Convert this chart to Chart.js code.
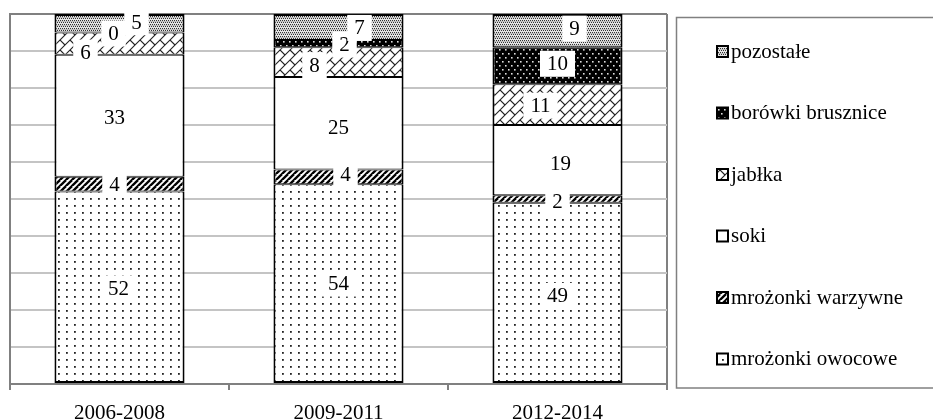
<!DOCTYPE html>
<html><head><meta charset="utf-8">
<script src="https://cdn.jsdelivr.net/npm/chart.js@4"></script>
<style>html,body{margin:0;padding:0;background:#fff}canvas{display:block}</style>
</head><body>
<canvas id="c" width="933" height="420"></canvas>
<script>
// ---- data ----
const categories = ['2006-2008', '2009-2011', '2012-2014'];
const seriesNames = ['mrożonki owocowe', 'mrożonki warzywne', 'soki', 'jabłka', 'borówki brusznice', 'pozostałe'];
const mrozonkiOwocowe = [52, 54, 49];
const mrozonkiWarzywne = [4, 4, 2];
const soki = [33, 25, 19];
const jablka = [6, 8, 11];
const borowkiBrusznice = [0, 2, 10];
const pozostale = [5, 7, 9];
const seriesValues = [mrozonkiOwocowe, mrozonkiWarzywne, soki, jablka, borowkiBrusznice, pozostale];

// label nudges (dx, dy) per series / category, as placed in the original
const labelOffsets = [
  [[-1, 1], [0, 0], [0, 3]],
  [[-5, 0], [7, -2], [0, 2]],
  [[-5, 2], [0, 4], [3, 3]],
  [[-34, 9], [-24, 3], [-17, 1]],
  [[-6, 1], [6, 1], [0, -2]],
  [[17, -1], [21, 1], [17, -2]]
];

const FONT = '"Liberation Serif", "Times New Roman", serif';

function pat(w, h, draw) {
  const c = document.createElement('canvas');
  c.width = w; c.height = h;
  const g = c.getContext('2d');
  draw(g, w, h);
  return g.createPattern(c, 'repeat');
}
// mrożonki owocowe: sparse dots
const pDots = pat(8, 7, g => { g.fillStyle = '#fff'; g.fillRect(0, 0, 8, 7); g.fillStyle = '#222'; g.fillRect(2, 2, 1.8, 1.8); });
// mrożonki warzywne: wide upward diagonal
const pDiag = pat(6, 6, g => {
  g.fillStyle = '#fff'; g.fillRect(0, 0, 6, 6);
  g.strokeStyle = '#000'; g.lineWidth = 2.3;
  for (let k = -2; k <= 3; k++) { g.beginPath(); g.moveTo(k * 6 - 6, 12); g.lineTo(k * 6 + 6, 0); g.stroke(); }
});
// soki: plain white
const pWhite = '#ffffff';
// jabłka: diagonal brick
const pBrick = pat(20, 20, g => {
  g.fillStyle = '#fff'; g.fillRect(0, 0, 20, 20);
  g.strokeStyle = '#222'; g.lineWidth = 1.1;
  for (let c = -40; c <= 80; c += 10) { g.beginPath(); g.moveTo(c + 20, -20); g.lineTo(c - 40, 40); g.stroke(); }
  for (let k = -6; k <= 10; k++) {
    for (let m = -6; m <= 6; m++) {
      const d = 20 * m + 10 * (((k % 2) + 2) % 2);
      const s1 = 10 * k, s2 = 10 * k + 10;
      g.beginPath(); g.moveTo((s1 - d) / 2, (s1 + d) / 2); g.lineTo((s2 - d) / 2, (s2 + d) / 2); g.stroke();
    }
  }
});
// borówki brusznice: black with white dots
const pBlackDots = pat(6, 8, g => {
  g.fillStyle = '#000'; g.fillRect(0, 0, 6, 8);
  g.fillStyle = '#ddd'; g.fillRect(1, 1, 1.6, 1.6); g.fillRect(4, 5, 1.6, 1.6);
});
// pozostałe: fine grey dots
const pGrey = pat(4, 4, g => {
  g.fillStyle = '#e4e4e4'; g.fillRect(0, 0, 4, 4);
  g.fillStyle = '#333';
  g.fillRect(0, 0, 1, 1); g.fillRect(2, 0, 1, 1); g.fillRect(1, 2, 1, 1); g.fillRect(3, 2, 1, 1);
  g.fillStyle = '#999'; g.fillRect(0, 1, 4, 0.5);
});
const fills = [pDots, pDiag, pWhite, pBrick, pBlackDots, pGrey];

const datasets = seriesNames.map((name, i) => ({
  label: name,
  data: seriesValues[i],
  backgroundColor: fills[i],
  borderColor: '#000',
  borderWidth: { left: 2, right: 2, top: i === seriesNames.length - 1 ? 2 : 1, bottom: i === 0 ? 2 : 1 },
  borderSkipped: false,
  barPercentage: 0.594,
  categoryPercentage: 1.0
}));

const segLabels = {
  id: 'segLabels',
  afterDatasetsDraw(chart) {
    const ctx = chart.ctx;
    ctx.save();
    ctx.font = '21px ' + FONT;
    ctx.textAlign = 'center';
    ctx.textBaseline = 'middle';
    chart.data.datasets.forEach((ds, i) => {
      const meta = chart.getDatasetMeta(i);
      meta.data.forEach((el, j) => {
        const t = String(ds.data[j]);
        const off = labelOffsets[i][j];
        const x = el.x + off[0];
        const y = (el.y + el.base) / 2 + off[1];
        const w = ctx.measureText(t).width + 14;
        const h = 26;
        ctx.fillStyle = '#fff';
        ctx.fillRect(x - w / 2, y - h / 2, w, h);
        ctx.fillStyle = '#000';
        ctx.fillText(t, x, y + 1);
      });
    });
    ctx.restore();
  }
};

const boxLegend = {
  id: 'boxLegend',
  afterDraw(chart) {
    const ctx = chart.ctx;
    ctx.save();
    ctx.strokeStyle = '#808080';
    ctx.lineWidth = 1.5;
    ctx.strokeRect(676.5, 17.5, 300, 370.5);
    ctx.font = '21px ' + FONT;
    ctx.textAlign = 'left';
    ctx.textBaseline = 'middle';
    const ds = chart.data.datasets.slice().reverse();
    ds.forEach((d, k) => {
      const y = 52 + k * 61.5;
      ctx.fillStyle = d.backgroundColor;
      ctx.fillRect(717, y - 6, 11, 11);
      ctx.strokeStyle = '#000';
      ctx.lineWidth = 2;
      ctx.strokeRect(717, y - 6, 11, 11);
      ctx.fillStyle = '#000';
      ctx.fillText(d.label, 731, y);
    });
    ctx.restore();
  }
};

new Chart(document.getElementById('c'), {
  type: 'bar',
  data: { labels: categories, datasets },
  options: {
    responsive: false,
    animation: false,
    devicePixelRatio: 1,
    layout: { padding: { left: 10, right: 266, top: 14, bottom: 0 } },
    plugins: { legend: { display: false }, tooltip: { enabled: false } },
    scales: {
      x: {
        stacked: true,
        offset: true,
        grid: {
          offset: true,
          drawOnChartArea: true,
          color: c => (c.index === undefined ? '#808080' : 'rgba(0,0,0,0)'),
          lineWidth: 2,
          tickColor: '#808080',
          tickLength: 6
        },
        border: { display: true, color: '#808080', width: 2 },
        ticks: { color: '#000', font: { family: FONT, size: 21 }, padding: 11, maxRotation: 0 },
        afterFit: s => { s.height = 36; }
      },
      y: {
        stacked: true,
        min: 0, max: 100,
        ticks: { display: false, stepSize: 10 },
        grid: {
          drawTicks: false,
          lineWidth: 2,
          color: c => (c.tick && c.tick.value === 100 ? '#808080' : '#c4c4c4')
        },
        border: { display: true, color: '#808080', width: 2 },
        afterFit: s => { s.width = 0; }
      }
    }
  },
  plugins: [segLabels, boxLegend]
});
</script>
</body></html>
